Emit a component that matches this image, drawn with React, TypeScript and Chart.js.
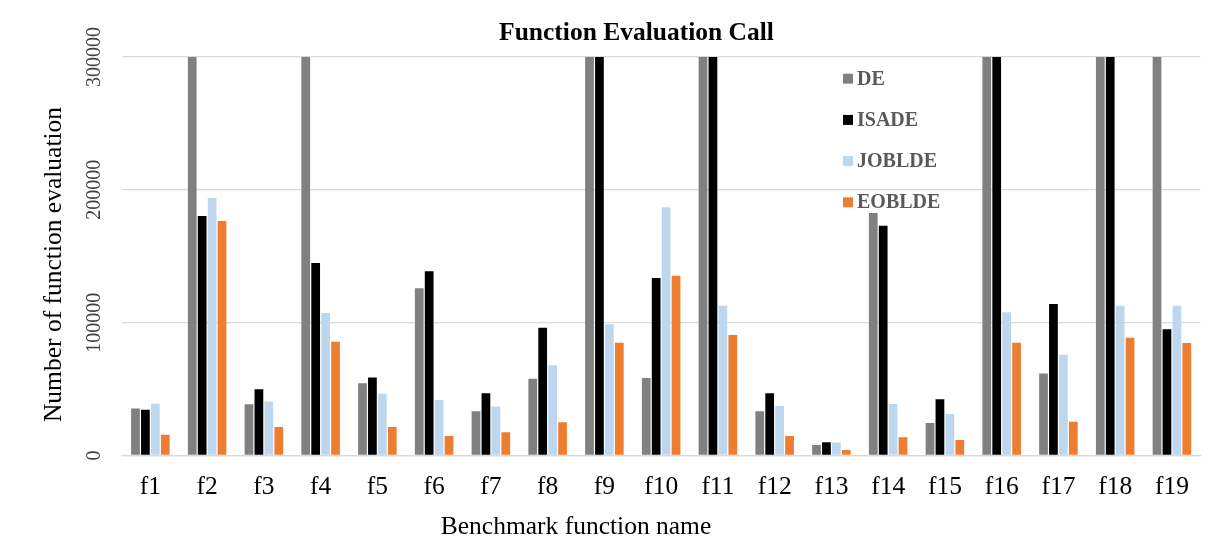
import { useEffect, useRef } from "react";
import { Chart, registerables } from "chart.js";

Chart.register(...registerables);

// Benchmark functions on the category axis
const categories = [
  "f1", "f2", "f3", "f4", "f5", "f6", "f7", "f8", "f9", "f10",
  "f11", "f12", "f13", "f14", "f15", "f16", "f17", "f18", "f19",
];

// Number of function evaluations for each algorithm
const deValues = [
  35300, 300000, 38600, 300000, 54400, 126000, 33300, 57700, 300000, 58400,
  300000, 33300, 7900, 182600, 24500, 300000, 61700, 300000, 300000,
];
const isadeValues = [
  34500, 180300, 49900, 144900, 58700, 138800, 46900, 96100, 300000, 133600,
  300000, 46900, 9900, 173000, 42400, 300000, 114000, 300000, 95100,
];
const jobldeValues = [
  39000, 193900, 40600, 107200, 46400, 41800, 36800, 68000, 98900, 186800,
  112700, 37300, 9700, 38800, 31300, 107900, 75800, 112700, 112700,
];
const eobldeValues = [
  15700, 176500, 21500, 85600, 21500, 14700, 17500, 25000, 84800, 135300,
  90800, 14700, 4100, 13700, 11700, 84800, 25500, 88600, 84600,
];

const seriesNames = ["DE", "ISADE", "JOBLDE", "EOBLDE"];
const seriesValues = [deValues, isadeValues, jobldeValues, eobldeValues];
const seriesColors = ["#808080", "#000000", "#BDD7EE", "#ED7D31"];

const yTickValues = [0, 100000, 200000, 300000];

const chartTitle = "Function Evaluation Call";
const xAxisTitle = "Benchmark function name";
const yAxisTitle = "Number of function evaluation";

const SERIF = "'Liberation Serif', 'Times New Roman', serif";

// Draws the title, axis titles, rotated y tick labels and the in-plot legend
const decorations = {
  id: "decorations",
  afterDraw(chart: any) {
    const { ctx, chartArea, scales } = chart;
    const yScale = scales.y;
    ctx.save();

    // chart title
    ctx.fillStyle = "#000000";
    ctx.font = `bold 25.5px ${SERIF}`;
    ctx.textAlign = "center";
    ctx.textBaseline = "alphabetic";
    ctx.fillText(chartTitle, chartArea.left + 514.5, 32);

    // x axis title
    ctx.font = `25.5px ${SERIF}`;
    ctx.fillText(xAxisTitle, chartArea.left + 454, 526);

    // y axis title (rotated)
    ctx.save();
    ctx.translate(53, 256.5);
    ctx.rotate(-Math.PI / 2);
    ctx.fillText(yAxisTitle, 0, 0);
    ctx.restore();

    // y tick labels (rotated)
    ctx.fillStyle = "#404040";
    ctx.font = `20px ${SERIF}`;
    for (const v of yTickValues) {
      const py = yScale.getPixelForValue(v);
      ctx.save();
      ctx.translate(chartArea.left - 22, py);
      ctx.rotate(-Math.PI / 2);
      ctx.textAlign = "center";
      ctx.textBaseline = "alphabetic";
      ctx.fillText(String(v), 0, 0);
      ctx.restore();
    }

    // legend
    const legendX = chartArea.left + 721;
    const legendY0 = 70.7;
    const legendStep = 41.2;
    ctx.font = `bold 20px ${SERIF}`;
    ctx.textAlign = "left";
    ctx.textBaseline = "middle";
    chart.data.datasets.forEach((ds: any, i: number) => {
      const cy = legendY0 + i * legendStep;
      ctx.fillStyle = ds.backgroundColor;
      ctx.fillRect(legendX, cy - 5, 10, 10);
      ctx.fillStyle = "#595959";
      ctx.fillText(ds.label, legendX + 14, cy + 1);
    });

    ctx.restore();
  },
};

export default function App() {
  const canvasRef = useRef<HTMLCanvasElement | null>(null);

  useEffect(() => {
    document.documentElement.style.overflow = "hidden";
    const canvas = canvasRef.current;
    if (!canvas) return;

    const chart = new Chart(canvas, {
      type: "bar",
      data: {
        labels: categories,
        datasets: seriesNames.map((name, i) => ({
          label: name,
          data: seriesValues[i],
          backgroundColor: seriesColors[i],
          borderWidth: 0,
          barPercentage: 0.88,
          categoryPercentage: 0.7,
        })),
      },
      options: {
        responsive: false,
        animation: false,
        layout: { padding: { top: 49, right: 3.3, left: 0, bottom: 0 } },
        plugins: {
          legend: { display: false },
          title: { display: false },
          tooltip: { enabled: false },
        },
        scales: {
          x: {
            grid: { display: false, drawTicks: false },
            border: { display: true, color: "#d9d9d9", width: 1.3 },
            ticks: {
              color: "#000000",
              font: { family: SERIF, size: 25.5 },
              padding: 16,
              maxRotation: 0,
              minRotation: 0,
              autoSkip: false,
            },
            afterFit: (scale: any) => {
              scale.height = 91.5;
            },
          },
          y: {
            min: 0,
            max: 300000,
            ticks: { display: false, stepSize: 100000 },
            grid: { color: "#d9d9d9", lineWidth: 1.3, drawTicks: false },
            border: { display: false },
            afterFit: (scale: any) => {
              scale.width = 114;
            },
          },
        },
      },
      plugins: [decorations],
    });

    return () => chart.destroy();
  }, []);

  return (
    <div
      style={{
        width: 1197,
        height: 539,
        marginLeft: -1,
        marginTop: -1,
        borderTop: "1px solid #d9d9d9",
        borderLeft: "1px solid #d9d9d9",
        borderRight: "1px solid #d9d9d9",
        background: "#ffffff",
      }}
    >
      <canvas ref={canvasRef} width={1197} height={539} style={{ display: "block" }} />
    </div>
  );
}
